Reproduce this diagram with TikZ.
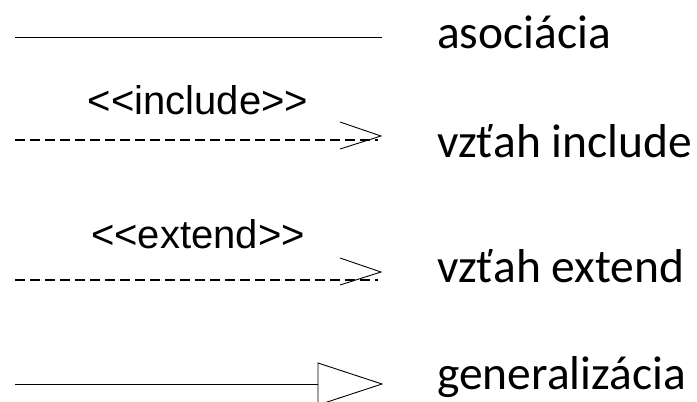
\documentclass[tikz,border=0pt]{standalone}
\usepackage{fontspec}
\setmainfont{Carlito}
\newfontfamily\arialfont{Liberation Sans}
\begin{document}
\begin{tikzpicture}[x=1pt,y=-1pt,
  conn/.style={line width=1pt,black},
  dashconn/.style={line width=1.3pt,black,dash pattern=on 9.5pt off 5.5pt},
  openhead/.style={line width=0.9pt,black},
  rlabel/.style={anchor=base west,inner sep=0pt,font=\fontsize{47.5}{52}\selectfont},
  stereo/.style={anchor=base,inner sep=0pt,font=\arialfont\fontsize{40}{45}\selectfont}]
\useasboundingbox (0,0) rectangle (697,402);
% association
\coordinate (a1) at (15,37);
\coordinate (a2) at (382,37);
\draw[conn] (a1) -- (a2);
\node[rlabel] (ta) at (437,48) {asociácia};
% include
\node[stereo] (si) at (198,114) {<<include>>};
\coordinate (i1) at (15,140);
\coordinate (i2) at (378,140);
\coordinate (it) at (381,136);
\coordinate (iu) at (340,122);
\coordinate (il) at (340,149);
\draw[dashconn] (i1) -- (i2);
\draw[openhead] (iu) -- (it) -- (il);
\node[rlabel] (ti) at (437,157) {vzťah include};
% extend
\node[stereo] (se) at (198,248) {<<extend>>};
\coordinate (e1) at (15,280);
\coordinate (e2) at (378,280);
\coordinate (et) at (381,272);
\coordinate (eu) at (340,258);
\coordinate (el) at (340,285);
\draw[dashconn] (e1) -- (e2);
\draw[openhead] (eu) -- (et) -- (el);
\node[rlabel] (te) at (437,282) {vzťah extend};
% generalization
\coordinate (g1) at (15,384);
\coordinate (g2) at (318,384);
\coordinate (gu) at (318,363);
\coordinate (gt) at (382,384);
\coordinate (gl) at (318,405);
\draw[conn] (g1) -- (g2);
\draw[openhead] (gu) -- (gt) -- (gl) -- cycle;
\node[rlabel] (tg) at (437,389) {generalizácia};
\end{tikzpicture}
\end{document}
